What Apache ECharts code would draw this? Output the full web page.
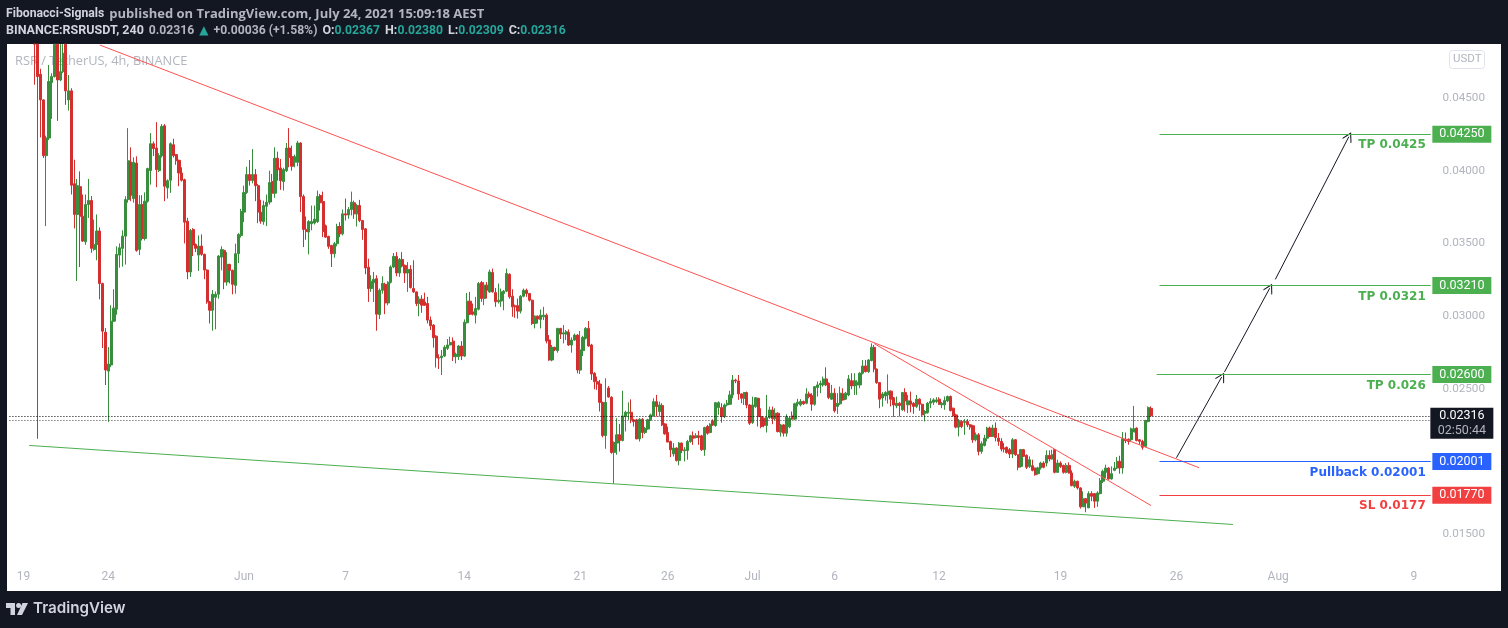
<!DOCTYPE html>
<html><head><meta charset="utf-8">
<style>html,body{margin:0;padding:0;background:#131722}#c{width:1508px;height:628px}</style>
<script src="https://cdn.jsdelivr.net/npm/echarts@6/dist/echarts.min.js"></script>
</head><body><div id="c"></div>
<script>
// prices below are in units of 0.00001 USDT; first candle sits at slot firstSlot
const priceUnit = 0.00001;
const firstSlot = 9;
const totalSlots = 528;
const opens = [
5200,4950,4662,4486,4103,4224,4605,4646,4880,4623,4680,4870,4486,4548,3910,3699,3890,3687,3511,3767,
3795,3459,3493,3585,3224,2890,2623,2665,2966,3048,3420,3466,3550,3801,4060,3808,4052,3459,3767,3534,
3790,4000,4185,4155,4000,4103,4308,3881,3934,4178,4110,4071,3984,3938,3653,3304,3596,3493,3420,3482,
3425,3317,3098,3041,3130,3151,3406,3452,3235,3356,3315,3212,3429,3555,3715,3849,3973,3932,3973,3897,
3715,3650,3755,3783,3925,3845,4085,4018,3925,4000,4155,4096,4057,4057,4190,3822,3596,3578,3635,3640,
3650,3829,3788,3621,3548,3486,3429,3498,3616,3566,3703,3695,3733,3779,3703,3760,3657,3600,3336,3190,
3230,3258,3011,3178,3219,3091,3233,3338,3411,3297,3390,3349,3297,3322,3190,3167,3087,3117,3098,3087,
2973,2939,2863,2715,2715,2726,2779,2802,2829,2722,2722,2795,2726,2955,3103,3030,3007,3048,3231,3121,
3213,3167,3300,3162,3099,3104,3156,3172,3288,3137,3071,3071,3035,3137,3178,3156,3110,2950,3000,2978,
2996,3007,2836,2699,2786,2763,2916,2877,2877,2888,2802,2836,2870,2630,2763,2848,2916,2802,2608,2550,
2534,2408,2180,2507,2443,2064,2128,2185,2146,2310,2333,2340,2288,2288,2157,2292,2201,2225,2288,2315,
2413,2345,2386,2260,2201,2139,2054,2094,2009,2128,2075,2077,2139,2178,2167,2178,2178,2082,2242,2201,
2280,2249,2372,2372,2310,2390,2395,2459,2561,2555,2466,2436,2475,2390,2270,2379,2436,2310,2299,2249,
2304,2356,2295,2333,2203,2253,2196,2240,2315,2293,2398,2391,2414,2402,2466,2455,2395,2510,2528,2528,
2569,2539,2430,2471,2380,2398,2466,2430,2459,2557,2521,2528,2528,2608,2658,2619,2695,2786,2637,2544,
2438,2452,2460,2485,2440,2384,2402,2357,2475,2391,2418,2402,2380,2430,2395,2334,2338,2402,2409,2414,
2430,2391,2391,2418,2448,2368,2322,2238,2277,2270,2277,2254,2247,2151,2185,2071,2112,2162,2231,2174,
2231,2162,2140,2094,2099,2083,2053,2151,2048,1968,2083,2044,1968,1973,1957,1918,1957,1991,1991,2044,
2019,2083,1927,1991,1975,1927,1975,1923,1831,1866,1820,1690,1745,1683,1781,1781,1729,1781,1866,1927,
1957,1882,1941,1957,2003,1957,2155,2155,2151,2204,2231,2151,2140,2105,2276,2367];
const closes = [
4950,4646,4486,4103,4224,4612,4646,4900,4623,4680,4806,4548,4548,3900,3699,3897,3687,3516,3767,3795,
3466,3493,3585,3224,2897,2630,2671,2966,3055,3425,3470,3550,3801,4068,3830,4057,3452,3767,3534,3790,
4014,4185,4151,4007,4103,4304,3893,3931,4185,4103,4068,3984,3934,3646,3304,3589,3489,3466,3482,3425,
3317,3098,3041,3151,3151,3413,3459,3235,3356,3315,3219,3429,3562,3719,3849,3973,3932,3973,3897,3715,
3653,3760,3783,3918,3845,4085,4005,3931,4007,4155,4091,4030,4096,4190,3822,3596,3582,3650,3650,3667,
3822,3779,3582,3543,3480,3429,3498,3616,3566,3703,3695,3733,3783,3703,3760,3657,3596,3331,3190,3240,
3253,3014,3178,3225,3091,3233,3338,3411,3297,3390,3345,3297,3322,3197,3167,3087,3117,3076,3076,2973,
2934,2852,2715,2712,2726,2786,2802,2820,2722,2740,2795,2726,2959,3103,3014,3014,3053,3224,3121,3213,
3179,3304,3167,3099,3110,3167,3172,3293,3133,3064,3064,3035,3137,3178,3156,3110,2950,3000,2980,3007,
3007,2829,2699,2786,2768,2916,2877,2886,2893,2802,2836,2870,2630,2768,2854,2916,2795,2603,2550,2534,
2408,2180,2408,2445,2064,2132,2185,2146,2315,2340,2340,2288,2276,2157,2292,2201,2230,2288,2322,2413,
2379,2390,2253,2192,2135,2082,2094,2009,2128,2077,2082,2139,2178,2162,2178,2167,2082,2235,2196,2258,
2253,2406,2406,2310,2390,2402,2459,2561,2555,2466,2436,2475,2390,2265,2390,2440,2310,2242,2249,2304,
2356,2295,2333,2208,2253,2196,2310,2300,2293,2398,2409,2414,2398,2466,2448,2395,2516,2528,2539,2569,
2528,2441,2471,2350,2402,2471,2425,2471,2569,2521,2557,2546,2608,2658,2619,2699,2786,2637,2544,2430,
2466,2475,2485,2430,2390,2402,2386,2475,2418,2418,2395,2380,2430,2395,2322,2345,2402,2414,2425,2425,
2395,2402,2420,2448,2352,2315,2238,2283,2242,2277,2254,2238,2151,2185,2071,2124,2162,2231,2174,2231,
2167,2140,2087,2087,2064,2053,2151,2048,1962,2083,2037,1962,2014,1941,1911,1957,1991,1962,2044,2019,
2048,1927,1991,1968,1927,1975,1923,1836,1866,1820,1690,1745,1717,1781,1763,1729,1786,1870,1934,1957,
1882,1918,1957,2003,1957,2158,2144,2139,2226,2226,2146,2140,2099,2283,2372,2316];
const highs = [
5300,5100,4700,4490,4240,4726,4669,5000,5000,4870,4900,4950,4657,4566,4075,3943,3995,3836,3836,3943,
3825,3664,3699,3610,3230,2918,2788,3075,3185,3480,3500,3590,3824,4292,4160,4091,4098,3831,3831,3850,
4020,4258,4200,4333,4120,4320,4320,3940,4194,4219,4115,4075,4023,3945,3676,3600,3605,3500,3555,3562,
3430,3322,3105,3180,3170,3420,3480,3460,3440,3360,3320,3498,3570,3737,3897,4027,4073,4148,4011,3909,
3800,3794,3836,4000,3977,4160,4130,4080,4020,4190,4292,4171,4110,4205,4195,3836,3685,3660,3760,3760,
3863,3840,3856,3630,3553,3490,3510,3635,3646,3733,3808,3750,3856,3794,3770,3799,3660,3605,3395,3281,
3304,3281,3190,3274,3230,3240,3349,3434,3440,3400,3440,3355,3372,3350,3384,3170,3137,3144,3162,3133,
2998,2945,2870,2738,2768,2800,2843,2859,2854,2750,2802,2829,2978,3160,3167,3087,3133,3235,3242,3235,
3235,3320,3327,3194,3224,3190,3180,3327,3295,3185,3080,3121,3145,3190,3190,3160,3115,3005,3005,3046,
3064,3019,2870,2802,2790,2920,2920,2939,2905,2909,2854,2880,2877,2898,2865,2925,2966,2810,2615,2585,
2562,2412,2573,2520,2450,2140,2299,2260,2488,2350,2408,2429,2295,2295,2300,2300,2240,2295,2330,2436,
2459,2413,2402,2265,2242,2145,2128,2100,2135,2132,2100,2150,2185,2208,2196,2212,2185,2240,2253,2265,
2292,2410,2415,2402,2400,2425,2488,2596,2570,2596,2470,2480,2482,2395,2447,2445,2440,2367,2305,2459,
2379,2379,2367,2340,2260,2258,2326,2310,2345,2405,2432,2430,2420,2505,2482,2471,2520,2551,2557,2585,
2649,2545,2528,2505,2471,2516,2505,2480,2596,2608,2608,2560,2615,2699,2699,2705,2813,2802,2640,2540,
2478,2485,2600,2490,2445,2448,2410,2480,2505,2459,2482,2410,2459,2436,2400,2355,2410,2436,2436,2443,
2443,2410,2448,2455,2455,2372,2330,2293,2285,2293,2293,2260,2254,2201,2197,2140,2185,2240,2242,2254,
2270,2197,2162,2128,2105,2094,2162,2156,2050,2088,2088,2050,2037,2014,1960,1965,2000,2003,2078,2078,
2083,2088,2014,2003,1980,1991,1996,1941,1877,1870,1825,1797,1750,1797,1797,1785,1797,1888,1946,1980,
1962,1968,1998,2032,2041,2204,2201,2160,2235,2384,2236,2155,2151,2288,2380,2380];
const lows = [
4590,2158,4228,4087,3619,4210,4356,4640,4342,4615,4670,4452,4413,3836,3603,3242,3338,3510,3490,3675,
3436,3450,3384,3116,2781,2527,2274,2650,2960,3010,3333,3340,3355,3780,3790,3780,3443,3420,3520,3520,
3780,3904,4100,3886,3990,4090,3790,3808,3847,4090,4040,3893,3925,3500,3254,3270,3413,3440,3311,3415,
3254,3085,2950,2900,2910,3120,3315,3185,3210,3225,3150,3155,3365,3540,3646,3840,3897,3913,3790,3639,
3635,3628,3619,3767,3783,3813,3931,3868,3863,3990,4023,4000,4023,4030,3715,3475,3525,3425,3590,3630,
3640,3726,3543,3540,3463,3338,3402,3480,3543,3555,3657,3669,3692,3669,3616,3646,3525,3288,3098,3167,
3098,2900,2980,3155,3014,3075,3225,3330,3274,3270,3335,3228,3167,3190,3160,3069,3000,3023,3070,2950,
2905,2784,2647,2637,2596,2720,2768,2800,2692,2676,2699,2699,2720,2950,3007,3005,2950,3040,3099,3076,
3121,3160,3162,3064,3087,3064,3041,3165,3120,2996,2989,2984,3019,3130,3133,3100,2940,2916,2950,2916,
2973,2813,2694,2690,2760,2749,2843,2813,2836,2795,2749,2830,2608,2603,2726,2840,2790,2562,2498,2494,
2345,2167,2089,2440,2055,1849,2048,2070,2140,2208,2288,2265,2242,2155,2139,2162,2190,2220,2280,2310,
2310,2310,2245,2185,2135,2032,2036,2002,1975,2059,2002,2014,2130,2116,2160,2116,2075,2041,2185,2195,
2246,2240,2322,2269,2300,2380,2390,2436,2540,2425,2402,2390,2367,2253,2260,2370,2242,2230,2237,2201,
2295,2258,2285,2201,2173,2173,2173,2231,2288,2285,2380,2380,2390,2395,2436,2350,2385,2448,2471,2516,
2520,2430,2425,2338,2329,2390,2420,2425,2450,2498,2459,2459,2505,2600,2614,2610,2690,2614,2535,2368,
2379,2420,2400,2380,2309,2368,2311,2350,2345,2334,2340,2329,2370,2350,2315,2277,2330,2368,2391,2402,
2390,2368,2357,2410,2345,2310,2230,2174,2231,2185,2238,2220,2130,2140,2044,2055,2105,2140,2170,2170,
2140,2110,2071,2064,2055,2025,2025,2040,1941,1960,2032,1950,1957,1934,1904,1911,1946,1955,1968,2003,
2014,1920,1923,1957,1918,1920,1918,1831,1820,1809,1678,1690,1653,1683,1729,1683,1690,1775,1854,1888,
1877,1877,1935,1950,1918,1918,2128,2117,2140,2204,2140,2117,2083,2101,2270,2309];

const tickSlots  = [5,35,83,119,161,202,233,263,292,329,372,413,449,497];
const tickLabels = ['19','24','Jun','7','14','21','26','Jul','6','12','19','26','Aug','9'];
const priceTicks = [0.015,0.025,0.03,0.035,0.04,0.045];
const yMin = 0.01112, yMax = 0.0487;

const redTrendA   = [[32,0.04863],[421,0.01959]];
const redTrendB   = [[306,0.02812],[404,0.01699]];
const greenTrend  = [[7,0.02112],[433,0.01569]];
const arrowPaths  = [[[413,0.02027],[429,0.02582]],[[430,0.02617],[446,0.03192]],[[448,0.03253],[474,0.04233]]];

const levelValues = [0.0425,0.0321,0.026,0.02001,0.0177];
const levelNotes  = ['TP 0.0425','TP 0.0321','TP 0.026','Pullback 0.02001','SL 0.0177'];
const levelTags   = ['0.04250','0.03210','0.02600','0.02001','0.01770'];
const levelColors = ['#4CAF50','#4CAF50','#4CAF50','#2962FF','#F23F3F'];
const levelStarts = [407,407,406,407,407];
const lastPrice = 0.02316, preLine = 0.02282, tagSlot = 514, lineEnd = 503;

const categories = [];
for (let i = 0; i < totalSlots; i++) categories.push('s' + i);
const tickMap = {};
tickSlots.forEach((s, k) => tickMap[s] = tickLabels[k]);

// prices above the visible window are held at its top edge so marks stay inside the plot
const toPrice = v => Math.min(v * priceUnit, yMax - 0.00001);
const candleData = [];
for (let i = 0; i < firstSlot; i++) candleData.push('-');
opens.forEach((o, k) => candleData.push([toPrice(o), toPrice(closes[k]), toPrice(lows[k]), toPrice(highs[k])]));

const noSym = 'none';
const seg = (a, color, extra) => [Object.assign({coord:a[0], symbol:noSym, lineStyle:Object.assign({color, width:1, type:'solid', opacity:1}, extra||{}), label:{show:false}}), {coord:a[1], symbol:noSym}];
const chevron = 'path://M0 0 L10 9 L9 10.2 L0 2.2 L-9 10.2 L-10 9 Z';

const lines = [
  seg(redTrendA,'#FF5252'), seg(redTrendB,'#FF5252'), seg(greenTrend,'#4CAF50')
];
arrowPaths.forEach(a => {
  const s = seg(a,'#131722');
  s[1].symbol = chevron; s[1].symbolSize = 10;
  lines.push(s);
});
levelValues.forEach((v,k) => {
  lines.push([{coord:[levelStarts[k],v], symbol:noSym, lineStyle:{color:levelColors[k],width:1,type:'solid',opacity:1},
    label:{show:true, position:'insideEndBottom', distance:5, formatter:levelNotes[k], color:levelColors[k], fontFamily:'DejaVu Sans', fontWeight:'bold', fontSize:12}},
    {coord:[lineEnd,v], symbol:noSym}]);
});
lines.push([{coord:[0,lastPrice],symbol:noSym,lineStyle:{color:'#000',width:1,type:[1,2],opacity:1},label:{show:false}},{coord:[lineEnd,lastPrice],symbol:noSym}]);
lines.push([{coord:[0,preLine],symbol:noSym,lineStyle:{color:'#444',width:1,type:[1,2],opacity:1},label:{show:false}},{coord:[lineEnd,preLine],symbol:noSym}]);

const tags = levelValues.map((v,k) => ({coord:[tagSlot,v], symbol:'rect', symbolSize:[59,17], itemStyle:{color:levelColors[k]},
  label:{show:true,position:'inside',formatter:levelTags[k],color:'#fff',fontFamily:'Roboto',fontSize:12.5}}));
tags.push({coord:[tagSlot,0.02264], symbol:'rect', symbolSize:[63,31], itemStyle:{color:'#131722'},
  label:{show:true,position:'inside',formatter:'{a|0.02316}\n{b|02:50:44}',rich:{a:{color:'#fff',fontFamily:'Roboto',fontSize:12.5,lineHeight:15},b:{color:'#B2B5BE',fontFamily:'Roboto',fontSize:12.5,lineHeight:15}}}});

const hdr = {l:'#D1D4DC', n:'#B2B5BE', t:'#26A69A'};
const chart = echarts.init(document.getElementById('c'), null, {renderer:'canvas'});
chart.setOption({
  animation:false,
  backgroundColor:'#131722',
  title:[{
    left:6, top:5, padding:0,
    text:'{b|Fibonacci-Signals} {n|published on TradingView.com, July 24, 2021 15:09:18 AEST}',
    textStyle:{rich:{b:{color:hdr.l,fontFamily:'Roboto',fontWeight:'bold',fontSize:12.2},n:{color:hdr.n,fontFamily:'Open Sans',fontSize:13}}}
  },{
    left:6, top:22, padding:0,
    text:'{b|BINANCE:RSRUSDT, 240} {n|0.02316} {u|▲} {n|+0.00036 (+1.58%)} {b|O:}{t|0.02367} {b|H:}{t|0.02380} {b|L:}{t|0.02309} {b|C:}{t|0.02316}',
    textStyle:{rich:{b:{color:hdr.l,fontFamily:'Roboto',fontWeight:'bold',fontSize:12.5},n:{color:hdr.n,fontFamily:'Roboto',fontSize:12.2},t:{color:hdr.t,fontFamily:'Roboto',fontSize:12.2},u:{color:hdr.t,fontFamily:'DejaVu Sans',fontSize:12}}}
  }],
  graphic:[
    {type:'rect',z:0,shape:{x:7,y:44,width:1494,height:547},style:{fill:'#fff'}},
    {type:'text',z:1,x:15,y:55,style:{text:'RSR / TetherUS, 4h, BINANCE',fill:'#B2B5BE',font:'12.8px "Open Sans"'}},
    {type:'rect',z:1,shape:{x:1449.5,y:50.5,width:35,height:18,r:3},style:{fill:'#fff',stroke:'#E0E3EB',lineWidth:1}},
    {type:'text',z:2,x:1453,y:53,style:{text:'USDT',fill:'#B2B5BE',font:'11.5px Roboto'}},
    {type:'polygon',z:1,shape:{points:[[6,603],[15,603],[15,615],[10.5,615],[10.5,608],[6,608]]},style:{fill:'#D1D4DC'}},
    {type:'polygon',z:1,shape:{points:[[22.5,603],[28,603],[22,615],[17,615]]},style:{fill:'#D1D4DC'}},
    {type:'circle',z:1,shape:{cx:18.6,cy:605.5,r:2.5},style:{fill:'#D1D4DC'}},
    {type:'text',z:1,x:33,y:601,style:{text:'TradingView',fill:'#D1D4DC',font:'600 15.2px Inter'}}
  ],
  grid:{left:8,right:8,top:44,bottom:37,show:false},
  xAxis:{type:'category',data:categories,boundaryGap:true,
    axisLine:{show:false},axisTick:{show:false},splitLine:{show:false},
    axisLabel:{show:true,inside:true,margin:8,color:'#B2B5BE',fontFamily:'Roboto',fontSize:12,hideOverlap:false,showMinLabel:true,showMaxLabel:true,
      interval:(idx)=>tickMap[idx]!==undefined, formatter:(v,idx)=>tickMap[idx]||''}},
  yAxis:{type:'value',position:'right',min:yMin,max:yMax,scale:true,
    axisLine:{show:false},axisTick:{show:false},splitLine:{show:false},
    axisLabel:{inside:true,margin:15,padding:[4,0,0,0],color:'#B2B5BE',fontFamily:'Roboto',fontSize:11.7,customValues:priceTicks,formatter:v=>v.toFixed(5)}},
  series:[{
    type:'candlestick',z:3,data:candleData,barWidth:2.6,clip:true,
    itemStyle:{color:'#388E3C',color0:'#D32F2F',borderColor:'#388E3C',borderColor0:'#D32F2F',borderWidth:1},
    markLine:{silent:true,animation:false,precision:6,data:lines},
    markPoint:{silent:true,animation:false,data:tags}
  }]
});
</script></body></html>
